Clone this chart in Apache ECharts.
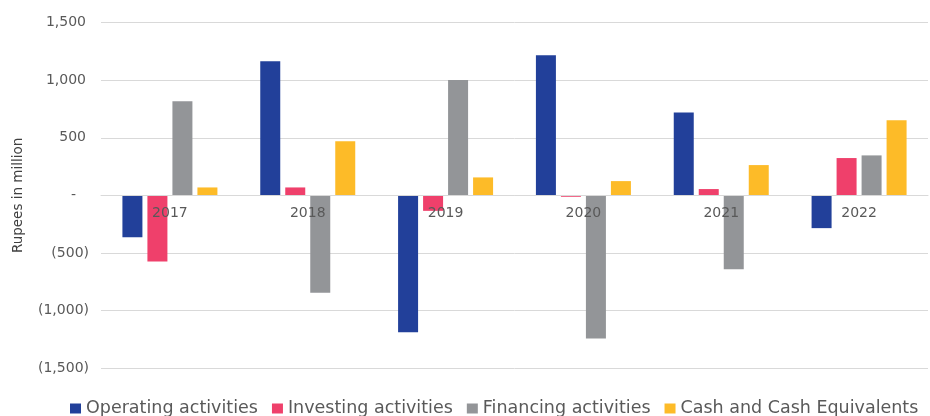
<!DOCTYPE html>
<html>
<head>
<meta charset="utf-8">
<script src="https://cdn.jsdelivr.net/npm/echarts@6/dist/echarts.min.js"></script>
<style>
  html, body { margin: 0; padding: 0; background: #fff; }
  #chart { width: 930px; height: 416px; }
</style>
</head>
<body>
<div id="chart"></div>
<script>
// data (Rupees in million)
var years = ['2017', '2018', '2019', '2020', '2021', '2022'];
var operating = [-362, 1163, -1187, 1215, 720, -284];
var investing = [-573, 69, -134, -12, 55, 324];
var financing = [816, -845, 1001, -1241, -640, 347];
var cashEquiv = [69, 469, 156, 124, 263, 653];
var yTicks = [-1500, -1000, -500, 0, 500, 1000, 1500];

var font = 'DejaVu Sans, sans-serif';
var chart = echarts.init(document.getElementById('chart'));

function fmtTick(v) {
  var s = Math.abs(v).toString().replace(/\B(?=(\d{3})+(?!\d))/g, ',');
  if (v === 0) return '{z|-}';
  if (v < 0) return '(' + s + ')';
  return '{p|' + s + '}';
}

function bar(name, data, color) {
  return {
    name: name,
    type: 'bar',
    data: data,
    barWidth: 20,
    barGap: '25%',
    itemStyle: { color: color }
  };
}

// zero line sits half way down the plot, move the category axis up to it
var gridTop = 22.5, gridBottom = 47.7;
var plotH = 416 - gridTop - gridBottom;

chart.setOption({
  animation: false,
  grid: { left: 101, right: 2, top: gridTop, bottom: gridBottom },
  legend: {
    left: 70,
    top: 399.5,
    padding: 0,
    itemWidth: 11,
    itemHeight: 10,
    itemGap: 14,
    icon: 'rect',
    textStyle: { fontFamily: font, fontSize: 17.5, color: '#595959' },
    data: ['Operating activities', 'Investing activities', 'Financing activities', 'Cash and Cash Equivalents']
  },
  xAxis: {
    type: 'category',
    data: years,
    z: 10,
    offset: -plotH / 2,
    axisLine: { onZero: false, lineStyle: { color: '#d9d9d9', width: 1 } },
    axisTick: { show: false },
    axisLabel: { margin: 11, fontFamily: font, fontSize: 14, color: '#595959' }
  },
  yAxis: {
    type: 'value',
    min: yTicks[0],
    max: yTicks[yTicks.length - 1],
    interval: 500,
    name: 'Rupees in million',
    nameLocation: 'middle',
    nameRotate: 90,
    nameGap: 76,
    nameTextStyle: { fontFamily: font, fontSize: 13.5, color: '#404040' },
    axisLine: { show: false },
    axisTick: { show: false },
    splitLine: { lineStyle: { color: '#d9d9d9', width: 1 } },
    axisLabel: {
      margin: 12,
      fontFamily: font,
      fontSize: 14,
      color: '#595959',
      formatter: fmtTick,
      rich: {
        p: { fontFamily: font, fontSize: 14, color: '#595959', padding: [0, 3, 0, 0] },
        z: { fontFamily: font, fontSize: 14, color: '#595959', padding: [0, 13, 0, 0] }
      }
    }
  },
  series: [
    bar('Operating activities', operating, '#22409a'),
    bar('Investing activities', investing, '#ef406b'),
    bar('Financing activities', financing, '#939598'),
    bar('Cash and Cash Equivalents', cashEquiv, '#fdbb28')
  ]
});
</script>
</body>
</html>
